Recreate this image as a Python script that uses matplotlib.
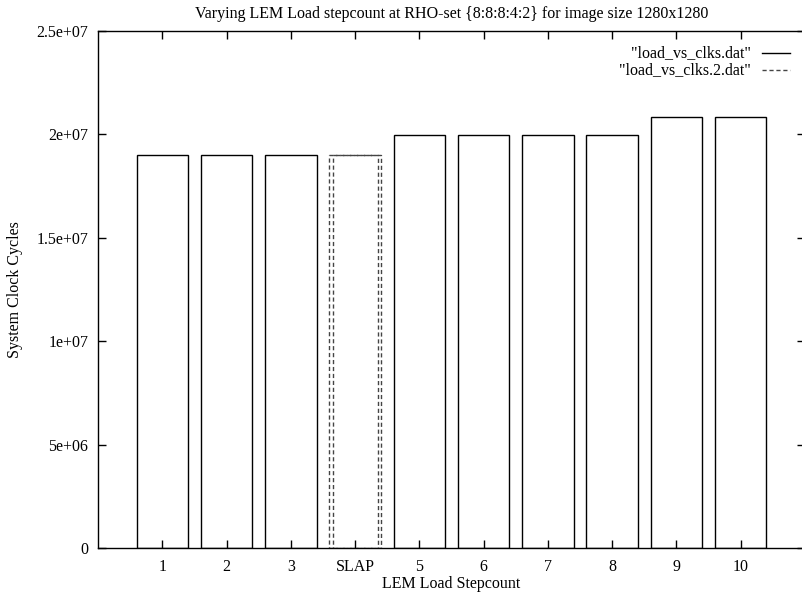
import matplotlib
matplotlib.use("Agg")
import matplotlib.pyplot as plt

# data
tick_pos = [1, 2, 3, 4, 5, 6, 7, 8, 9, 10]
tick_labels = ["1", "2", "3", "SLAP", "5", "6", "7", "8", "9", "10"]
clks_x = [1, 2, 3, 5, 6, 7, 8, 9, 10]
clks_y = [1.90e7, 1.90e7, 1.90e7, 1.995e7, 1.995e7, 1.995e7, 1.995e7, 2.085e7, 2.085e7]
clks2_x = [4]
clks2_y = [1.90e7]
yticks = [0, 5e6, 1e7, 1.5e7, 2e7, 2.5e7]
ytick_labels = ["0", "5e+06", "1e+07", "1.5e+07", "2e+07", "2.5e+07"]

plt.rcParams["font.family"] = ["Liberation Serif", "DejaVu Serif"]
plt.rcParams["font.size"] = 11.5

fig = plt.figure(figsize=(8.03, 5.95), dpi=100)
ax = fig.add_axes([98 / 803, 47 / 595, 707 / 803, 517 / 595])

ax.bar(clks_x, clks_y, width=0.8, facecolor="none", edgecolor="black", linewidth=1)
ax.bar(clks2_x, clks2_y, width=0.8, facecolor="none", edgecolor="#444444",
       linewidth=1, linestyle=(0, (3, 2)))
ax.bar(clks2_x, clks2_y, width=0.7, facecolor="none", edgecolor="#444444",
       linewidth=1, linestyle=(0, (3, 2)))

ax.set_xlim(0, 11)
ax.set_ylim(0, 2.5e7)
ax.set_xticks(tick_pos)
ax.set_xticklabels(tick_labels)
ax.set_yticks(yticks)
ax.set_yticklabels(ytick_labels)
ax.tick_params(direction="in", length=6, width=1, top=True, right=True, pad=8)
ax.tick_params(axis="y", pad=7)
for s in ax.spines.values():
    s.set_linewidth(1)

ax.set_title("Varying LEM Load stepcount at RHO-set {8:8:8:4:2} for image size 1280x1280",
             fontsize=11.5, pad=9)
ax.set_xlabel("LEM Load Stepcount", labelpad=1)
ax.set_ylabel("System Clock Cycles", labelpad=10)

# gnuplot-style key: right aligned text, sample to the right
ax.text(0.9236, 0.957, '"load_vs_clks.dat"', transform=ax.transAxes, ha="right", va="center")
ax.plot([0.939, 0.979], [0.957, 0.957], transform=ax.transAxes, color="black", lw=1)
ax.text(0.9236, 0.9246, '"load_vs_clks.2.dat"', transform=ax.transAxes, ha="right", va="center")
ax.plot([0.939, 0.979], [0.9246, 0.9246], transform=ax.transAxes, color="#444444", lw=1,
        linestyle=(0, (3, 2)))

fig.savefig("out.png", dpi=100)
